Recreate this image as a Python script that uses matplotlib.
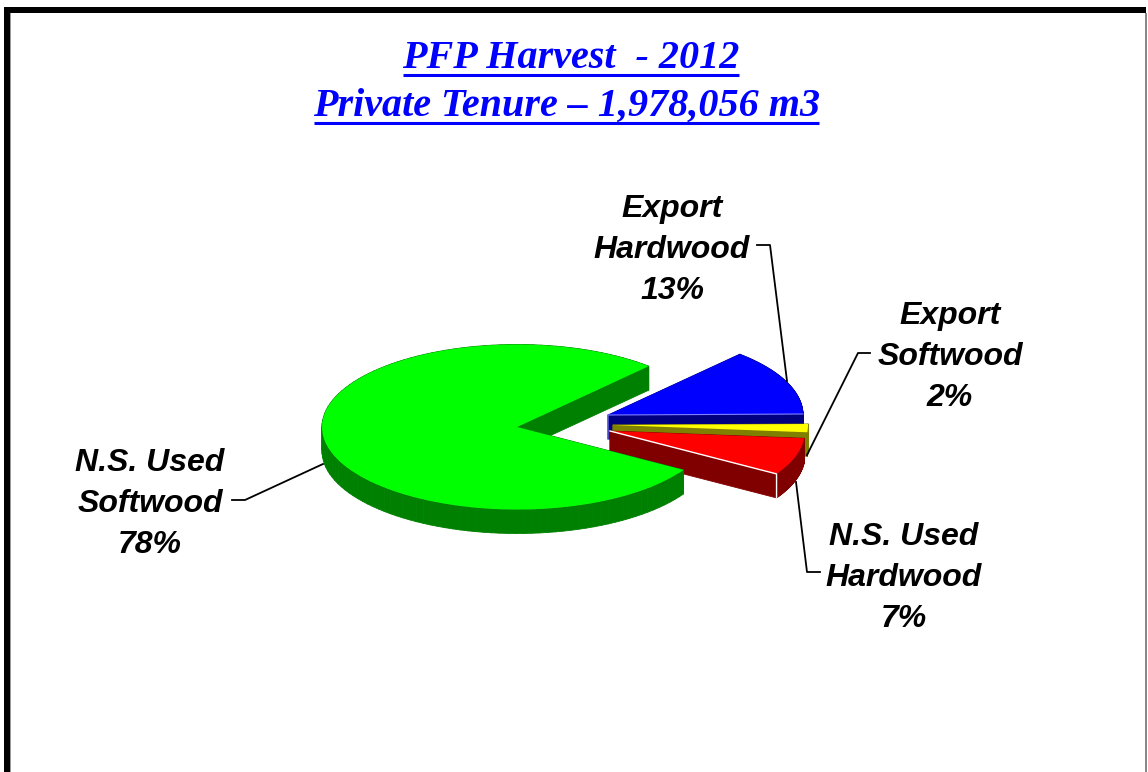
import numpy as np
import matplotlib
matplotlib.use("Agg")
import matplotlib.pyplot as plt
from matplotlib.patches import Wedge, Rectangle
from matplotlib.collections import PolyCollection
from matplotlib.transforms import Affine2D

# ---- data ----
categories = ["Export\nHardwood", "Export\nSoftwood", "N.S. Used\nHardwood", "N.S. Used\nSoftwood"]
shares = [13.0, 1.6, 7.3, 78.1]          # slice sizes
percent_labels = ["13%", "2%", "7%", "78%"]
title_lines = ["PFP Harvest  - 2012", "Private Tenure \u2013 1,978,056 m3"]

# ---- styles ----
top_colors = ["#0000FF", "#FFFF00", "#FF0000", "#00FF00"]
side_colors = ["#000080", "#808000", "#800000", "#008000"]
apexes = [(608, 415), (613, 425), (610, 431), (517, 427)]   # pixel positions of slice apexes
draw_order = [0, 1, 2, 3]
RX, RY, DEPTH = 195.0, 82.5, 24.0
START_ANGLE = 47.5
H = 772

fig = plt.figure(figsize=(11.48, 7.72), dpi=100, facecolor="white")
ax = fig.add_axes([0, 0, 1, 1])
ax.set_xlim(0, 1148)
ax.set_ylim(0, H)
ax.axis("off")

# frame
ax.add_patch(Rectangle((4, 0), 6, H - 7, fc="black", ec="none"))
ax.add_patch(Rectangle((10, 0), 1, H - 13, fc="#999999", ec="none"))
ax.add_patch(Rectangle((4, H - 13), 1142, 6, fc="black", ec="none"))
ax.add_patch(Rectangle((1145, 0), 1.5, H - 13, fc="#888888", ec="none"))

# slices: clockwise from START_ANGLE
sweeps = np.array(shares) / sum(shares) * 360.0
ends = START_ANGLE - np.cumsum(sweeps)
starts = ends + sweeps


def outline(i):
    t = np.radians(np.linspace(ends[i], starts[i], 120))
    cx, cy = apexes[i]
    xs = np.r_[cx, cx + RX * np.cos(t)]
    ys = np.r_[H - cy, H - cy + RY * np.sin(t)]
    return xs, ys


for i in draw_order:
    cx, cy = apexes[i]
    xs, ys = outline(i)
    x2, y2 = np.roll(xs, -1), np.roll(ys, -1)
    quads = [[(a, b), (c, d), (c, d - DEPTH), (a, b - DEPTH)]
             for a, b, c, d in zip(xs, ys, x2, y2)]
    ax.add_collection(PolyCollection(quads, facecolors=side_colors[i],
                                     edgecolors=side_colors[i], linewidths=0.6, zorder=2 + i))
    trans = Affine2D().scale(1, RY / RX).translate(cx, H - cy) + ax.transData
    ax.add_patch(Wedge((0, 0), RX, ends[i], starts[i], fc=top_colors[i], ec="none",
                       transform=trans, zorder=2 + i))
    # thin pale highlights on the front edges of the small slices
    if i == 2:
        ax.plot([xs[0], xs[1], xs[1]], [ys[0], ys[1], ys[1] - DEPTH], color="white", lw=1.0, zorder=2 + i)
    if i == 0:
        ax.plot([xs[0], xs[0], xs[0], xs[1]], [ys[0] - DEPTH, ys[0], ys[0], ys[1]],
                color="#7f7fff", lw=0.8, zorder=2 + i)

# labels
label_pos = [(672, 250), (950, 357), (904, 578), (150, 504)]
for name, pct, (x, y) in zip(categories, percent_labels, label_pos):
    ax.text(x, H - y, name + "\n" + pct, ha="center", va="center", fontsize=23,
            family="Liberation Sans", style="italic", weight="bold", color="black",
            linespacing=1.49, zorder=20)

# leader lines (pixel positions)
leaders = [
    [(757, 245), (770, 245), (787, 381)],
    [(870, 353), (858, 353), (807, 455)],
    [(796, 482), (807, 572), (820, 572)],
    [(323, 464), (245, 500), (232, 500)],
]
for pts in leaders:
    px, py = zip(*pts)
    ax.plot(px, [H - v for v in py], color="black", lw=1.3, zorder=15)

# title with underlines
title_x = [571, 566.5]
title_y = [59, 106]
under_y = [75, 123]
under_x = [(403, 739), (314, 819)]
for line, tx, y, uy, (x0, x1) in zip(title_lines, title_x, title_y, under_y, under_x):
    ax.text(tx, H - y, line, ha="center", va="center", fontsize=28.9,
            family="Liberation Serif", style="italic", weight="bold", color="#0000FF", zorder=20)
    ax.plot([x0, x1], [H - uy, H - uy], color="#0000FF", lw=2.2, solid_capstyle="butt", zorder=20)

fig.savefig("out.png", dpi=100, facecolor="white")
